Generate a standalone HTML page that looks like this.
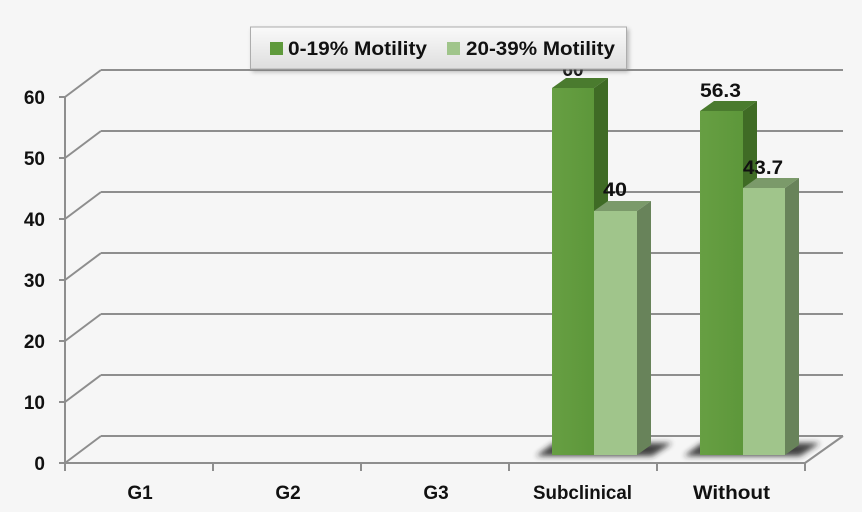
<!DOCTYPE html>
<html>
<head>
<meta charset="utf-8">
<style>
html,body{margin:0;padding:0;background:#f6f6f6;}
svg{display:block;}
text{font-family:"Liberation Sans",sans-serif;font-weight:bold;fill:#111;}
</style>
</head>
<body>
<svg width="862" height="512" viewBox="0 0 862 512" xmlns="http://www.w3.org/2000/svg">
<defs>
<filter id="blur" x="-20%" y="-100%" width="140%" height="300%"><feGaussianBlur stdDeviation="3"/></filter>
<filter id="lshadow" x="-10%" y="-30%" width="130%" height="180%"><feGaussianBlur stdDeviation="2"/></filter>
<linearGradient id="lg" x1="0" y1="0" x2="0" y2="1">
<stop offset="0" stop-color="#fafafa"/><stop offset="1" stop-color="#dedede"/>
</linearGradient>
<linearGradient id="dk" x1="0" y1="0" x2="1" y2="0">
<stop offset="0" stop-color="#679f43"/><stop offset="1" stop-color="#5d973a"/>
</linearGradient>
</defs>
<rect width="862" height="512" fill="#f6f6f6"/>
<g stroke="#8e8e8e" stroke-width="2" fill="none">
<!-- back gridlines -->
<line x1="101" y1="70" x2="843" y2="70"/>
<line x1="101" y1="131" x2="843" y2="131"/>
<line x1="101" y1="192" x2="843" y2="192"/>
<line x1="101" y1="253" x2="843" y2="253"/>
<line x1="101" y1="314" x2="843" y2="314"/>
<line x1="101" y1="375" x2="843" y2="375"/>
<line x1="101" y1="436" x2="843" y2="436"/>
<!-- left wall diagonals -->
<line x1="65" y1="97" x2="101" y2="70"/>
<line x1="65" y1="158" x2="101" y2="131"/>
<line x1="65" y1="219" x2="101" y2="192"/>
<line x1="65" y1="280" x2="101" y2="253"/>
<line x1="65" y1="341" x2="101" y2="314"/>
<line x1="65" y1="402" x2="101" y2="375"/>
<line x1="65" y1="463" x2="101" y2="436"/>
<!-- axis -->
<line x1="65" y1="96" x2="65" y2="463"/>
<line x1="59" y1="97" x2="65" y2="97"/>
<line x1="59" y1="158" x2="65" y2="158"/>
<line x1="59" y1="219" x2="65" y2="219"/>
<line x1="59" y1="280" x2="65" y2="280"/>
<line x1="59" y1="341" x2="65" y2="341"/>
<line x1="59" y1="402" x2="65" y2="402"/>
<line x1="59" y1="463" x2="65" y2="463"/>
<!-- floor -->
<line x1="65" y1="463" x2="805" y2="463"/>
<line x1="805" y1="463" x2="843" y2="436"/>
<line x1="65" y1="463" x2="65" y2="471"/>
<line x1="213" y1="463" x2="213" y2="471"/>
<line x1="361" y1="463" x2="361" y2="471"/>
<line x1="509" y1="463" x2="509" y2="471"/>
<line x1="657" y1="463" x2="657" y2="471"/>
<line x1="805" y1="463" x2="805" y2="471"/>
</g>
<!-- shadows -->
<polygon points="536,456 554,443 672,443 652,456" fill="#222" opacity="0.85" filter="url(#blur)"/>
<polygon points="684,456 702,443 820,443 800,456" fill="#222" opacity="0.85" filter="url(#blur)"/>
<!-- Subclinical dark bar 60 -->
<polygon points="552,88 566,78 608,78 594,88" fill="#4a7b2e"/>
<polygon points="594,88 608,78 608,445 594,455" fill="#3f6b25"/>
<rect x="552" y="88" width="42" height="367" fill="url(#dk)"/>
<!-- Subclinical light bar 40 -->
<polygon points="594,211 608,201 651,201 637,211" fill="#7b9a6a"/>
<polygon points="637,211 651,201 651,445 637,455" fill="#68835a"/>
<rect x="594" y="211" width="43" height="244" fill="#a0c58b"/>
<!-- Without dark bar 56.3 -->
<polygon points="700,111 714,101 757,101 743,111" fill="#4a7b2e"/>
<polygon points="743,111 757,101 757,445 743,455" fill="#3f6b25"/>
<rect x="700" y="111" width="43" height="344" fill="url(#dk)"/>
<!-- Without light bar 43.7 -->
<polygon points="743,188 757,178 799,178 785,188" fill="#7b9a6a"/>
<polygon points="785,188 799,178 799,445 785,455" fill="#68835a"/>
<rect x="743" y="188" width="42" height="267" fill="#a0c58b"/>
<!-- data labels -->
<text x="573" y="76" font-size="19" text-anchor="middle">60</text>
<text x="700" y="97" font-size="19" textLength="41" lengthAdjust="spacingAndGlyphs">56.3</text>
<text x="603" y="196" font-size="19" textLength="24" lengthAdjust="spacingAndGlyphs">40</text>
<text x="743" y="174" font-size="19" textLength="40" lengthAdjust="spacingAndGlyphs">43.7</text>
<!-- axis labels -->
<g font-size="19">
<text x="45" y="104" text-anchor="end">60</text>
<text x="45" y="165" text-anchor="end">50</text>
<text x="45" y="226" text-anchor="end">40</text>
<text x="45" y="287" text-anchor="end">30</text>
<text x="45" y="348" text-anchor="end">20</text>
<text x="45" y="409" text-anchor="end">10</text>
<text x="45" y="470" text-anchor="end">0</text>
<text x="140" y="499" text-anchor="middle">G1</text>
<text x="288" y="499" text-anchor="middle">G2</text>
<text x="436" y="499" text-anchor="middle">G3</text>
<text x="533" y="499" textLength="99" lengthAdjust="spacingAndGlyphs">Subclinical</text>
<text x="693" y="499" textLength="77" lengthAdjust="spacingAndGlyphs">Without</text>
</g>
<!-- legend -->
<rect x="252" y="29" width="377" height="43" fill="#777" opacity="0.5" filter="url(#lshadow)"/>
<rect x="250.5" y="27" width="376" height="42" fill="url(#lg)" stroke="#adadad" stroke-width="1"/>
<rect x="270" y="42" width="13" height="13" fill="#5f9a3c"/>
<text x="288" y="55" font-size="19" textLength="139" lengthAdjust="spacingAndGlyphs">0-19% Motility</text>
<rect x="447" y="42" width="13" height="13" fill="#a0c58b"/>
<text x="466" y="55" font-size="19" textLength="149" lengthAdjust="spacingAndGlyphs">20-39% Motility</text>
</svg>
</body>
</html>
